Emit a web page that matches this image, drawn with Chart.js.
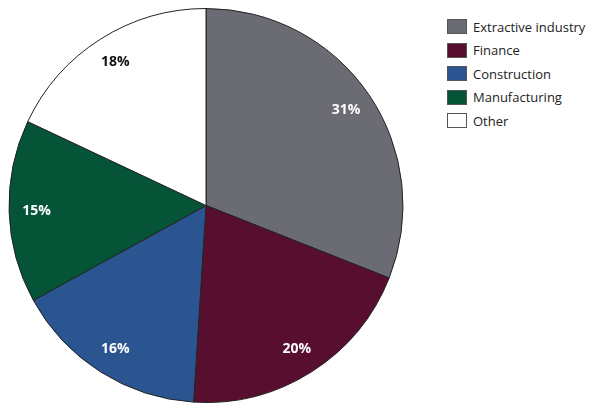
<!DOCTYPE html>
<html>
<head>
<meta charset="utf-8">
<script src="https://cdn.jsdelivr.net/npm/chart.js@4"></script>
<style>
  body { margin: 0; background: #fff; font-family: "Open Sans", sans-serif; }
  #wrap { position: relative; width: 600px; height: 411px; }
  #box { position: absolute; left: 0; top: 0; width: 412px; height: 411px; }
  #legend { position: absolute; left: 447px; top: 15px; font-size: 13px; color: #222; }
  .item { display: flex; align-items: center; height: 23.5px; }
  .sw { width: 20px; height: 15px; border: 1px solid #555; margin-right: 6px; box-sizing: border-box; }
</style>
</head>
<body>
<div id="wrap">
  <div id="box"><canvas id="pie"></canvas></div>
  <div id="legend"></div>
</div>
<script>
// Sector shares of total (%)
const categories = ["Extractive industry", "Finance", "Construction", "Manufacturing", "Other"];
const shares = [31, 20, 16, 15, 18];
const colors = ["#6b6b73", "#580f2f", "#2a5590", "#065438", "#ffffff"];
const labelColors = ["#fff", "#fff", "#fff", "#fff", "#111"];

// Legend
const legend = document.getElementById("legend");
categories.forEach((name, i) => {
  const row = document.createElement("div");
  row.className = "item";
  row.innerHTML = `<span class="sw" style="background:${colors[i]}"></span>${name}`;
  legend.appendChild(row);
});

// Percent labels inside slices
const sliceLabels = {
  id: "sliceLabels",
  afterDatasetsDraw(chart) {
    const ctx = chart.ctx;
    const meta = chart.getDatasetMeta(0);
    ctx.save();
    ctx.font = "bold 14px 'Open Sans', sans-serif";
    ctx.textAlign = "center";
    ctx.textBaseline = "middle";
    meta.data.forEach((arc, i) => {
      const mid = (arc.startAngle + arc.endAngle) / 2;
      const r = arc.outerRadius * 0.86;
      ctx.fillStyle = labelColors[i];
      ctx.fillText(shares[i] + "%", arc.x + Math.cos(mid) * r, arc.y + Math.sin(mid) * r);
    });
    ctx.restore();
  },
};

new Chart(document.getElementById("pie"), {
  type: "pie",
  data: {
    labels: categories,
    datasets: [{
      data: shares,
      backgroundColor: colors,
      borderColor: "#222",
      borderWidth: 1,
    }],
  },
  options: {
    responsive: true,
    maintainAspectRatio: false,
    animation: false,
    layout: { padding: 8 },
    plugins: { legend: { display: false }, tooltip: { enabled: false } },
  },
  plugins: [sliceLabels],
});
</script>
</body>
</html>
